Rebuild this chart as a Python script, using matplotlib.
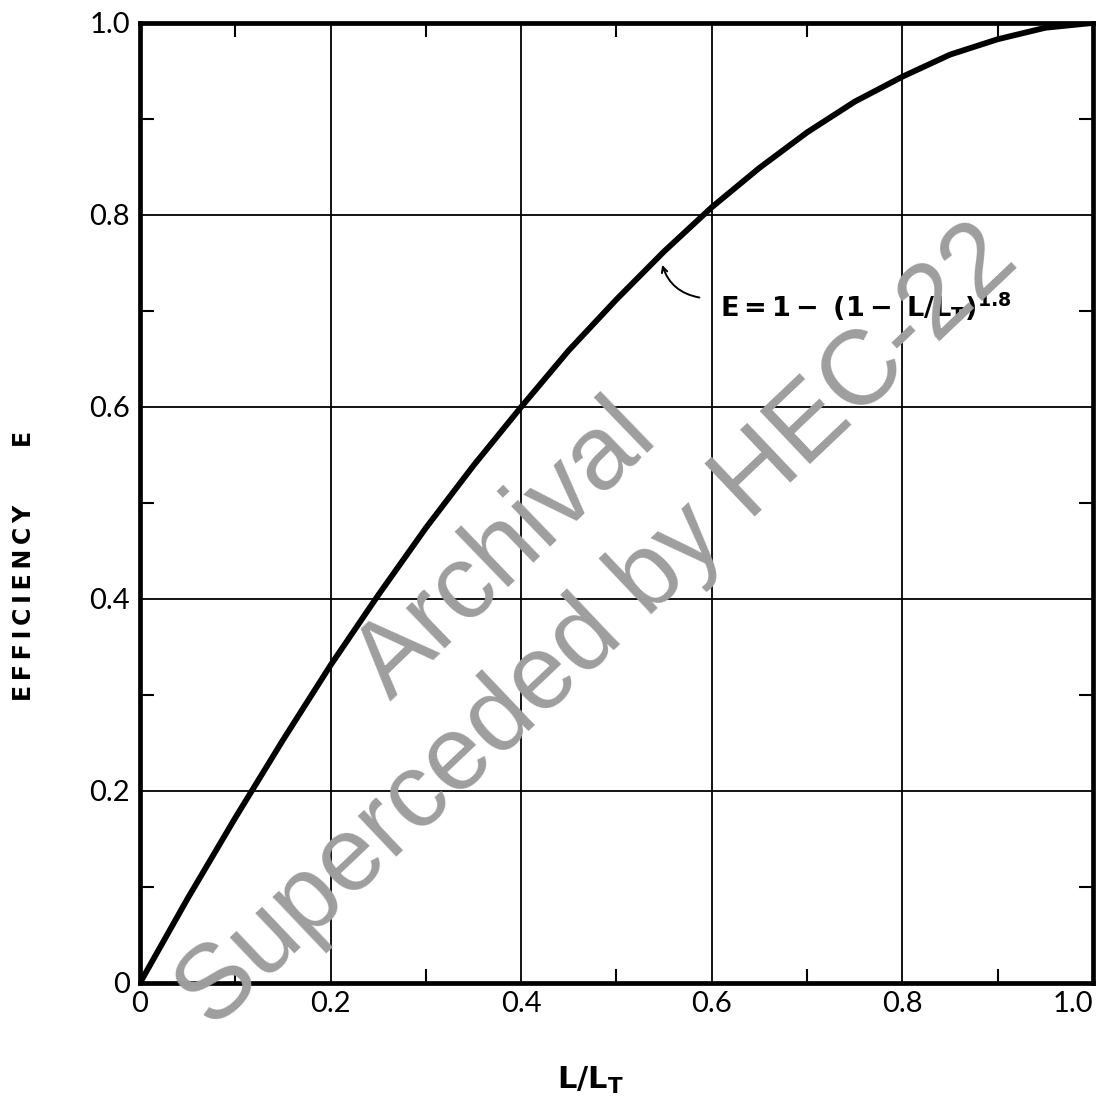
import matplotlib
matplotlib.use("Agg")
import matplotlib.pyplot as plt
from matplotlib import font_manager
from matplotlib.ticker import MultipleLocator

# values
ratio = [0, 0.05, 0.10, 0.15, 0.20, 0.25, 0.30, 0.35, 0.40, 0.45, 0.50,
         0.55, 0.60, 0.65, 0.70, 0.75, 0.80, 0.85, 0.90, 0.95, 1.0]
efficiency = [0, 0.088, 0.172, 0.253, 0.331, 0.404, 0.474, 0.539, 0.600, 0.659, 0.712,
              0.762, 0.808, 0.849, 0.886, 0.918, 0.944, 0.967, 0.983, 0.995, 1.0]

tick_vals = [0, 0.2, 0.4, 0.6, 0.8, 1.0]
tick_text = ["0", "0.2", "0.4", "0.6", "0.8", "1.0"]

installed = {f.name for f in font_manager.fontManager.ttflist}
light = "Lato" if "Lato" in installed else "DejaVu Sans"

fig = plt.figure(figsize=(11.03, 11.03), dpi=100)
ax = fig.add_axes([0.1269, 0.1088, 0.864, 0.8704])

ax.plot(ratio, efficiency, color="black", lw=4.2, solid_capstyle="round", zorder=3)

ax.set_xlim(0, 1)
ax.set_ylim(0, 1)
ax.set_xticks(tick_vals)
ax.set_xticklabels(tick_text)
ax.set_yticks(tick_vals)
ax.set_yticklabels(tick_text)
ax.xaxis.set_minor_locator(MultipleLocator(0.1))
ax.yaxis.set_minor_locator(MultipleLocator(0.1))
ax.tick_params(which="major", length=0, labelsize=21, labelcolor="black")
ax.tick_params(axis="y", which="major", pad=7)
ax.tick_params(axis="x", which="major", pad=6)
ax.tick_params(which="minor", direction="in", length=10, width=1.5, top=True, right=True)
for lab in ax.get_xticklabels() + ax.get_yticklabels():
    lab.set_family(light)
    lab.set_fontweight("normal")
ax.get_xticklabels()[-1].set_horizontalalignment("right")
ax.grid(True, which="major", color="black", lw=1.3)
for s in ax.spines.values():
    s.set_linewidth(3.4)
    s.set_zorder(4)

# axis titles
fig.text(590 / 1103, 1 - 1080 / 1103, r"$\mathbf{L/L_T}$", fontsize=22,
         ha="center", va="center")
fig.text(24 / 1103, 1 - 566 / 1103, "E\u2009F\u2009F\u2009I\u2009C\u2009I\u2009E\u2009N\u2009C\u2009Y       E",
         fontsize=17, fontweight="bold", rotation=90, ha="center", va="center",
         family="DejaVu Sans")

# equation label with arrow
ax.annotate("", xy=(0.548, 0.748), xytext=(0.587, 0.714),
            arrowprops=dict(arrowstyle="->", color="black", lw=1.4,
                            connectionstyle="arc3,rad=-0.3", shrinkA=0, shrinkB=0))
ax.text(0.609, 0.694, r"$\mathbf{E = 1 -\ (1 -\ L/L_T)^{1.8}}$", fontsize=19.5,
        ha="left", va="baseline")

# watermark
ax.text(0.262, 0.293, "Archival", transform=ax.transAxes, fontsize=76,
        family="Liberation Sans", color="#9e9e9e", rotation=44,
        rotation_mode="anchor", ha="left", va="baseline", zorder=5)
ax.text(0.076, -0.050, "Superceded by HEC-22", transform=ax.transAxes, fontsize=76,
        family="Liberation Sans", color="#9e9e9e", rotation=43.5,
        rotation_mode="anchor", ha="left", va="baseline", zorder=5)

fig.savefig("out.png", dpi=100, facecolor="white")
